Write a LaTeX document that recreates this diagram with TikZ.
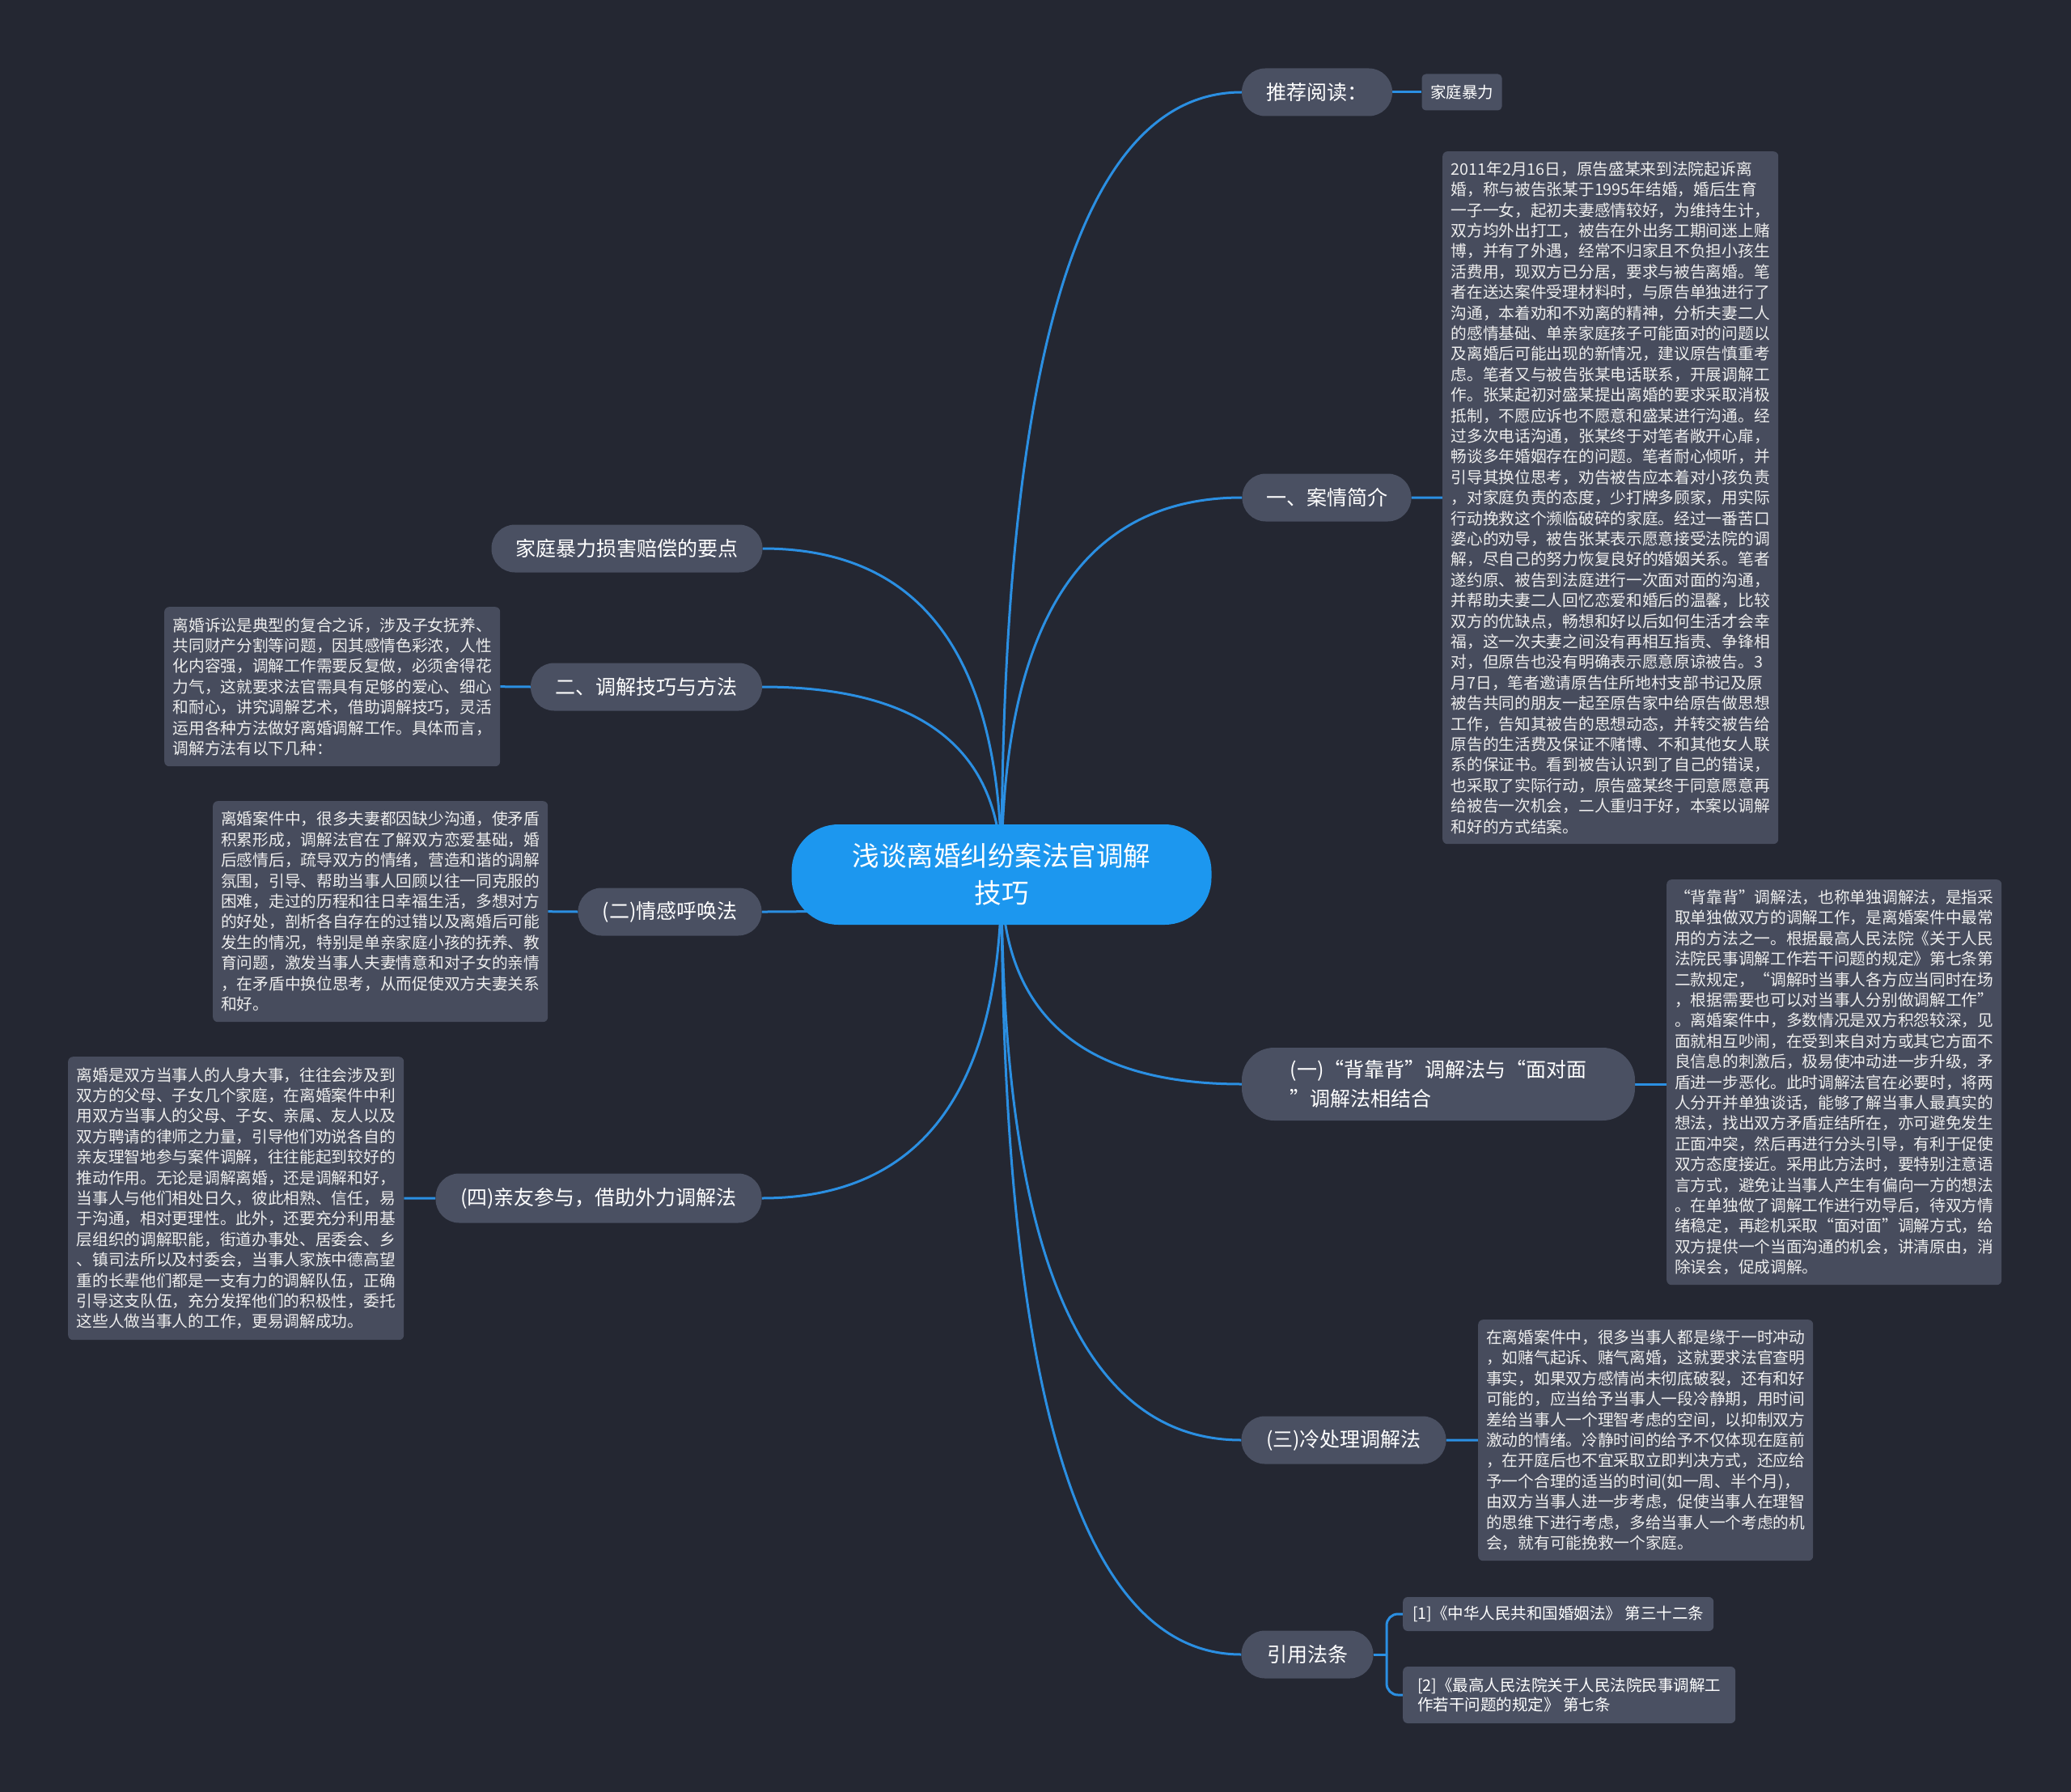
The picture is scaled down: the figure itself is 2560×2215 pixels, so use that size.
\documentclass[tikz,border=0pt]{standalone}
\usepackage{fontspec}
\setmainfont{Noto Sans CJK SC}
\usetikzlibrary{calc}
\definecolor{bgc}{HTML}{242732}
\definecolor{pillc}{HTML}{4A5062}
\definecolor{boxc}{HTML}{474C5D}
\definecolor{topicc}{HTML}{1C97EF}
\definecolor{linec}{HTML}{2B8FE2}
\pgfdeclarelayer{bglayer}
\pgfdeclarelayer{linelayer}
\pgfsetlayers{bglayer,linelayer,main}
\newcommand\mmlink[2]{\draw[conn] (#1) .. controls ($(#1)!0.667!(#1 |- #2)$) and ($(#2)!0.667!(#1 |- #2)$) .. (#2);}
\begin{document}
\begin{tikzpicture}[x=1pt,y=-1pt,
 pill/.style={fill=pillc, rounded corners=29pt, text=white, font=\fontsize{25}{32}\selectfont, minimum height=59pt, inner sep=0pt},
 smallbox/.style={fill=pillc, rounded corners=6pt, text=white, font=\fontsize{19.5}{24.5}\selectfont, inner sep=0pt, align=left},
 tbox/.style={fill=boxc, rounded corners=6pt, text=white!93!black, font=\fontsize{19.7}{25.4}\selectfont, align=left, inner sep=0pt, anchor=north west},
 conn/.style={draw=linec, line width=3pt}]
\useasboundingbox (0,0) rectangle (2560,2215);
\begin{pgfonlayer}{bglayer}
\fill[bgc] (0,0) rectangle (2560,2215);
\end{pgfonlayer}

% central topic
\node[fill=topicc, rounded corners=58pt, minimum width=519pt, minimum height=124pt, text=white, font=\fontsize{33.5}{46}\selectfont, align=center, inner sep=0pt] (c) at (1238,1081) {浅谈离婚纠纷案法官调解\\技巧};

% right branches
\node[pill, minimum width=186pt] (tj) at (1628,114) {推荐阅读：};
\node[smallbox, rounded corners=5pt, minimum width=99pt, minimum height=45pt] (tjc) at (1807,114) {家庭暴力};

\node[pill, minimum width=209pt] (a1) at (1640,615) {一、案情简介};
\node[tbox, minimum width=415pt, minimum height=856pt] (a1t) at (1783,187) {2011年2月16日，原告盛某来到法院起诉离\\
婚，称与被告张某于1995年结婚，婚后生育\\
一子一女，起初夫妻感情较好，为维持生计，\\
双方均外出打工，被告在外出务工期间迷上赌\\
博，并有了外遇，经常不归家且不负担小孩生\\
活费用，现双方已分居，要求与被告离婚。笔\\
者在送达案件受理材料时，与原告单独进行了\\
沟通，本着劝和不劝离的精神，分析夫妻二人\\
的感情基础、单亲家庭孩子可能面对的问题以\\
及离婚后可能出现的新情况，建议原告慎重考\\
虑。笔者又与被告张某电话联系，开展调解工\\
作。张某起初对盛某提出离婚的要求采取消极\\
抵制，不愿应诉也不愿意和盛某进行沟通。经\\
过多次电话沟通，张某终于对笔者敞开心扉，\\
畅谈多年婚姻存在的问题。笔者耐心倾听，并\\
引导其换位思考，劝告被告应本着对小孩负责\\
，对家庭负责的态度，少打牌多顾家，用实际\\
行动挽救这个濒临破碎的家庭。经过一番苦口\\
婆心的劝导，被告张某表示愿意接受法院的调\\
解，尽自己的努力恢复良好的婚姻关系。笔者\\
遂约原、被告到法庭进行一次面对面的沟通，\\
并帮助夫妻二人回忆恋爱和婚后的温馨，比较\\
双方的优缺点，畅想和好以后如何生活才会幸\\
福，这一次夫妻之间没有再相互指责、争锋相\\
对，但原告也没有明确表示愿意原谅被告。3\\
月7日，笔者邀请原告住所地村支部书记及原\\
被告共同的朋友一起至原告家中给原告做思想\\
工作，告知其被告的思想动态，并转交被告给\\
原告的生活费及保证不赌博、不和其他女人联\\
系的保证书。看到被告认识到了自己的错误，\\
也采取了实际行动，原告盛某终于同意愿意再\\
给被告一次机会，二人重归于好，本案以调解\\
和好的方式结案。};

\node[pill, rounded corners=40pt, minimum width=486pt, minimum height=90pt, align=left, font=\fontsize{25}{36}\selectfont] (b1) at (1778,1340) {(一)“背靠背”调解法与“面对面\\”调解法相结合};
\node[tbox, minimum width=414pt, minimum height=501pt] (b1t) at (2060,1087) {“背靠背”调解法，也称单独调解法，是指采\\
取单独做双方的调解工作，是离婚案件中最常\\
用的方法之一。根据最高人民法院《关于人民\\
法院民事调解工作若干问题的规定》第七条第\\
二款规定，“调解时当事人各方应当同时在场\\
，根据需要也可以对当事人分别做调解工作”\\
。离婚案件中，多数情况是双方积怨较深，见\\
面就相互吵闹，在受到来自对方或其它方面不\\
良信息的刺激后，极易使冲动进一步升级，矛\\
盾进一步恶化。此时调解法官在必要时，将两\\
人分开并单独谈话，能够了解当事人最真实的\\
想法，找出双方矛盾症结所在，亦可避免发生\\
正面冲突，然后再进行分头引导，有利于促使\\
双方态度接近。采用此方法时，要特别注意语\\
言方式，避免让当事人产生有偏向一方的想法\\
。在单独做了调解工作进行劝导后，待双方情\\
绪稳定，再趁机采取“面对面”调解方式，给\\
双方提供一个当面沟通的机会，讲清原由，消\\
除误会，促成调解。};

\node[pill, minimum width=253pt] (b3) at (1661,1780) {(三)冷处理调解法};
\node[tbox, minimum width=414pt, minimum height=298pt] (b3t) at (1827,1631) {在离婚案件中，很多当事人都是缘于一时冲动\\
，如赌气起诉、赌气离婚，这就要求法官查明\\
事实，如果双方感情尚未彻底破裂，还有和好\\
可能的，应当给予当事人一段冷静期，用时间\\
差给当事人一个理智考虑的空间，以抑制双方\\
激动的情绪。冷静时间的给予不仅体现在庭前\\
，在开庭后也不宜采取立即判决方式，还应给\\
予一个合理的适当的时间(如一周、半个月)，\\
由双方当事人进一步考虑，促使当事人在理智\\
的思维下进行考虑，多给当事人一个考虑的机\\
会，就有可能挽救一个家庭。};

\node[pill, minimum width=163pt] (yy) at (1616,2045) {引用法条};
\coordinate (yj) at (1714,2045);
\node[smallbox, minimum width=384pt, minimum height=42pt, anchor=west] (r1) at (1734,1995) {[1]《中华人民共和国婚姻法》 第三十二条};
\node[smallbox, minimum width=411pt, minimum height=70pt, anchor=west] (r2) at (1734,2095) {[2]《最高人民法院关于人民法院民事调解工\\作若干问题的规定》 第七条};

% left branches
\node[pill, minimum width=335pt] (l0) at (775,678) {家庭暴力损害赔偿的要点};

\node[pill, minimum width=286pt] (l1) at (799,849) {二、调解技巧与方法};
\node[tbox, minimum width=415pt, minimum height=197pt] (l1t) at (203,750) {离婚诉讼是典型的复合之诉，涉及子女抚养、\\
共同财产分割等问题，因其感情色彩浓，人性\\
化内容强，调解工作需要反复做，必须舍得花\\
力气，这就要求法官需具有足够的爱心、细心\\
和耐心，讲究调解艺术，借助调解技巧，灵活\\
运用各种方法做好离婚调解工作。具体而言，\\
调解方法有以下几种：};

\node[pill, minimum width=227pt] (l2) at (828,1127) {(二)情感呼唤法};
\node[tbox, minimum width=414pt, minimum height=273pt] (l2t) at (263,990) {离婚案件中，很多夫妻都因缺少沟通，使矛盾\\
积累形成，调解法官在了解双方恋爱基础，婚\\
后感情后，疏导双方的情绪，营造和谐的调解\\
氛围，引导、帮助当事人回顾以往一同克服的\\
困难，走过的历程和往日幸福生活，多想对方\\
的好处，剖析各自存在的过错以及离婚后可能\\
发生的情况，特别是单亲家庭小孩的抚养、教\\
育问题，激发当事人夫妻情意和对子女的亲情\\
，在矛盾中换位思考，从而促使双方夫妻关系\\
和好。};

\node[pill, minimum width=403pt, minimum height=61pt] (l4) at (740,1481) {(四)亲友参与，借助外力调解法};
\node[tbox, minimum width=415pt, minimum height=350pt] (l4t) at (84,1306) {离婚是双方当事人的人身大事，往往会涉及到\\
双方的父母、子女几个家庭，在离婚案件中利\\
用双方当事人的父母、子女、亲属、友人以及\\
双方聘请的律师之力量，引导他们劝说各自的\\
亲友理智地参与案件调解，往往能起到较好的\\
推动作用。无论是调解离婚，还是调解和好，\\
当事人与他们相处日久，彼此相熟、信任，易\\
于沟通，相对更理性。此外，还要充分利用基\\
层组织的调解职能，街道办事处、居委会、乡\\
、镇司法所以及村委会，当事人家族中德高望\\
重的长辈他们都是一支有力的调解队伍，正确\\
引导这支队伍，充分发挥他们的积极性，委托\\
这些人做当事人的工作，更易调解成功。};

% connectors
\begin{pgfonlayer}{linelayer}
\mmlink{c.center}{tj.west}
\mmlink{c.center}{a1.west}
\mmlink{c.center}{b1.west}
\mmlink{c.center}{b3.west}
\mmlink{c.center}{yy.west}
\mmlink{c.center}{l0.east}
\mmlink{c.center}{l1.east}
\mmlink{c.center}{l2.east}
\mmlink{c.center}{l4.east}
\draw[conn] (tj.east) -- (tjc.west);
\draw[conn] (a1.east) -- (a1t.west);
\draw[conn] (b1.east) -- (b1t.west |- b1.east);
\draw[conn] (b3.east) -- (b3t.west);
\draw[conn] (l1.west) -- (l1t.east);
\draw[conn] (l2.west) -- (l2t.east);
\draw[conn] (l4.west) -- (l4t.east);
\draw[conn] (yy.east) -- (yj);
\draw[conn, rounded corners=14pt] (yj) |- (r1.west);
\draw[conn, rounded corners=14pt] (yj) |- (r2.west);
\end{pgfonlayer}
\end{tikzpicture}
\end{document}
